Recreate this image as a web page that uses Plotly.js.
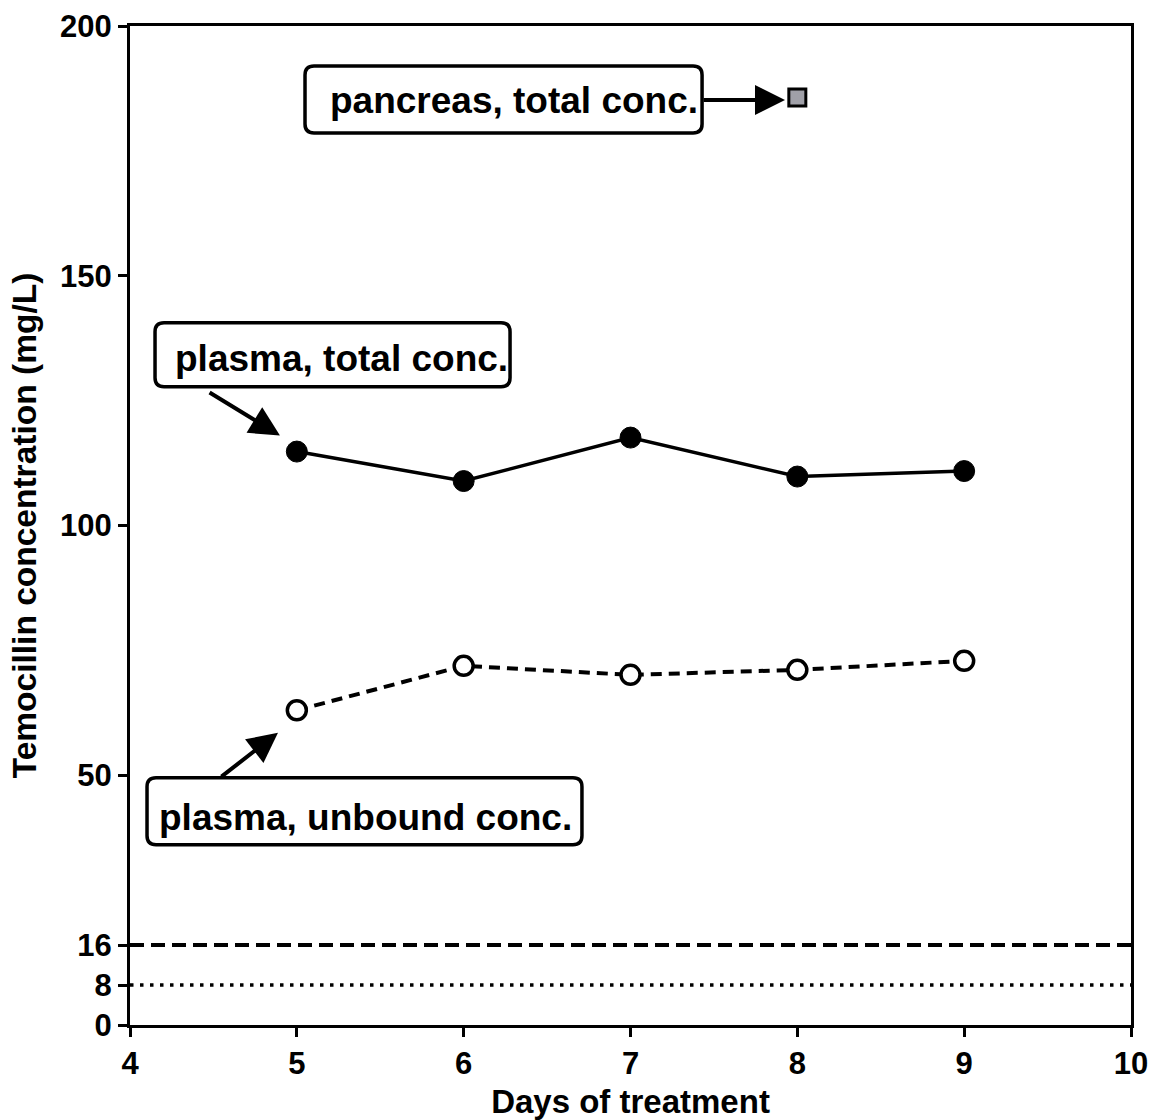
<!DOCTYPE html>
<html>
<head>
<meta charset="utf-8">
<script src="https://cdn.plot.ly/plotly-3.0.1.min.js"></script>
<style>html,body{margin:0;padding:0;background:#fff;}</style>
</head>
<body>
<div id="chart" style="width:1151px;height:1120px;"></div>
<script>
// ---- data ----
const days = [5, 6, 7, 8, 9];
const plasmaTotal = [114.8, 108.9, 117.6, 109.8, 110.9];
const plasmaUnbound = [63.0, 71.9, 70.1, 71.1, 72.9];
const pancreasDay = [8];
const pancreasTotal = [185.7];
const breakpoints = [16, 8];
const yTickVals = [0, 8, 16, 50, 100, 150, 200];
const yTickText = ['0', '8', '16', '50', '100', '150', '200'];
const xTickVals = [4, 5, 6, 7, 8, 9, 10];
const labels = ['pancreas, total conc.', 'plasma, total conc.', 'plasma, unbound conc.'];

const FONT = 'Liberation Sans, Arial, Helvetica, sans-serif';

function roundedRect(x0, x1, y0, y1) {
  const rx = 9 / 166.83, ry = 9 / 4.9975;
  return 'M ' + (x0 + rx) + ',' + y1 +
    ' L ' + (x1 - rx) + ',' + y1 +
    ' Q ' + x1 + ',' + y1 + ' ' + x1 + ',' + (y1 - ry) +
    ' L ' + x1 + ',' + (y0 + ry) +
    ' Q ' + x1 + ',' + y0 + ' ' + (x1 - rx) + ',' + y0 +
    ' L ' + (x0 + rx) + ',' + y0 +
    ' Q ' + x0 + ',' + y0 + ' ' + x0 + ',' + (y0 + ry) +
    ' L ' + x0 + ',' + (y1 - ry) +
    ' Q ' + x0 + ',' + y1 + ' ' + (x0 + rx) + ',' + y1 + ' Z';
}

const traces = [
  {
    x: days, y: plasmaTotal, type: 'scatter', mode: 'lines+markers',
    line: {color: '#000', width: 3.5},
    marker: {symbol: 'circle', size: 21, color: '#000', line: {color: '#000', width: 1}},
    cliponaxis: false, showlegend: false, hoverinfo: 'x+y'
  },
  {
    x: days, y: plasmaUnbound, type: 'scatter', mode: 'lines+markers',
    line: {color: '#000', width: 4, dash: '11px,7px'},
    marker: {symbol: 'circle', size: 19, color: '#fff', line: {color: '#000', width: 3.5}},
    cliponaxis: false, showlegend: false, hoverinfo: 'x+y'
  },
  {
    x: pancreasDay, y: pancreasTotal, type: 'scatter', mode: 'markers',
    marker: {symbol: 'square', size: 17, color: '#a0a0a8', line: {color: '#000', width: 3}},
    cliponaxis: false, showlegend: false, hoverinfo: 'x+y'
  }
];

const shapes = [
  {type: 'line', xref: 'paper', x0: 0, x1: 1, yref: 'y', y0: breakpoints[0], y1: breakpoints[0],
   line: {color: '#000', width: 4, dash: '14px,7px'}},
  {type: 'line', xref: 'paper', x0: 0, x1: 1, yref: 'y', y0: breakpoints[1], y1: breakpoints[1],
   line: {color: '#000', width: 3.5, dash: '3.5px,6.5px'}},
  {type: 'path', xref: 'x', yref: 'y', path: roundedRect(5.049, 7.429, 178.6, 192.0),
   line: {color: '#000', width: 3.5}, fillcolor: 'rgba(255,255,255,0)'},
  {type: 'path', xref: 'x', yref: 'y', path: roundedRect(4.150, 6.278, 127.8, 140.6),
   line: {color: '#000', width: 3.5}, fillcolor: 'rgba(255,255,255,0)'},
  {type: 'path', xref: 'x', yref: 'y', path: roundedRect(4.102, 6.709, 36.1, 49.5),
   line: {color: '#000', width: 3.5}, fillcolor: 'rgba(255,255,255,0)'}
];

const annFont = {family: FONT, size: 37, color: '#000', weight: 'bold'};
const annotations = [
  {x: 6.300, y: 185.0, xref: 'x', yref: 'y', text: labels[0], showarrow: false, font: annFont, xanchor: 'center', yanchor: 'middle'},
  {x: 5.265, y: 133.5, xref: 'x', yref: 'y', text: labels[1], showarrow: false, font: annFont, xanchor: 'center', yanchor: 'middle'},
  {x: 5.410, y: 41.5, xref: 'x', yref: 'y', text: labels[2], showarrow: false, font: annFont, xanchor: 'center', yanchor: 'middle'},
  {x: 7.926, y: 185.2, ax: 7.429, ay: 185.2, xref: 'x', yref: 'y', axref: 'x', ayref: 'y', text: '',
   showarrow: true, arrowhead: 2, arrowsize: 1.5, arrowwidth: 4, arrowcolor: '#000', standoff: 0},
  {x: 4.899, y: 118.0, ax: 4.468, ay: 126.8, xref: 'x', yref: 'y', axref: 'x', ayref: 'y', text: '',
   showarrow: true, arrowhead: 2, arrowsize: 1.5, arrowwidth: 4, arrowcolor: '#000', standoff: 0},
  {x: 4.887, y: 58.5, ax: 4.539, ay: 49.5, xref: 'x', yref: 'y', axref: 'x', ayref: 'y', text: '',
   showarrow: true, arrowhead: 2, arrowsize: 1.5, arrowwidth: 4, arrowcolor: '#000', standoff: 0}
];

const layout = {
  width: 1151, height: 1120,
  margin: {l: 130, r: 20, t: 26, b: 95, pad: 0},
  paper_bgcolor: '#fff', plot_bgcolor: '#fff',
  font: {family: FONT, color: '#000', weight: 'bold'},
  showlegend: false,
  xaxis: {
    range: [4, 10], tickvals: xTickVals, ticktext: xTickVals.map(String),
    showgrid: false, zeroline: false, showline: true, mirror: true,
    linecolor: '#000', linewidth: 3, ticks: 'outside', ticklen: 9, tickwidth: 3, tickcolor: '#000',
    tickfont: {family: FONT, size: 31, color: '#000', weight: 'bold'},
    title: {text: 'Days of treatment', font: {family: FONT, size: 33, color: '#000', weight: 'bold'}, standoff: 18},
    fixedrange: true
  },
  yaxis: {
    range: [0, 200], tickvals: yTickVals, ticktext: yTickText,
    showgrid: false, zeroline: false, showline: true, mirror: true,
    linecolor: '#000', linewidth: 3, ticks: 'outside', ticklen: 9, tickwidth: 3, tickcolor: '#000',
    tickfont: {family: FONT, size: 31, color: '#000', weight: 'bold'},
    title: {text: 'Temocillin concentration (mg/L)', font: {family: FONT, size: 33.5, color: '#000', weight: 'bold'}, standoff: 14},
    fixedrange: true
  },
  shapes: shapes,
  annotations: annotations
};

Plotly.newPlot('chart', traces, layout, {staticPlot: true, displayModeBar: false});
</script>
</body>
</html>
